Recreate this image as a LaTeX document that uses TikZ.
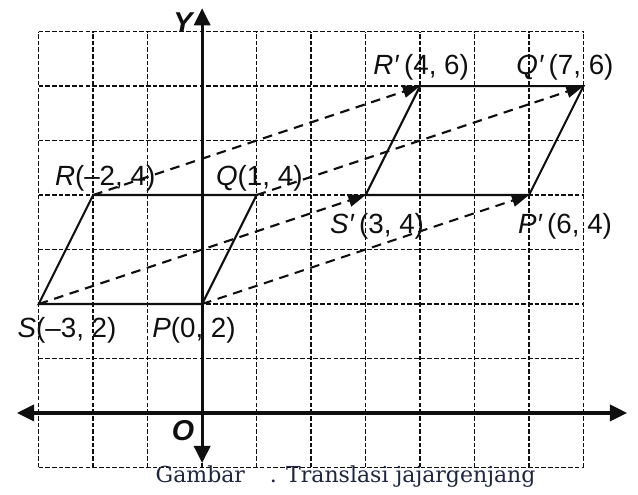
\documentclass[tikz,border=0pt]{standalone}
\usepackage{fontspec}
\setmainfont{Liberation Sans}
\newfontfamily\capfont{DejaVu Serif}
\usepackage{xcolor}
\usepackage{tikz}
\usetikzlibrary{arrows.meta,positioning,calc}
\definecolor{inkblack}{RGB}{15, 15, 15}
\definecolor{capnavy}{RGB}{30, 38, 62}

\begin{document}
\begin{tikzpicture}[
    >={Triangle[length=9pt,width=8.5pt]},
    gridline/.style={dash pattern=on 2.4pt off 1.1pt, line width=0.7pt, inkblack},
    axis/.style={<->, line width=1.6pt, inkblack},
    side/.style={line width=1.1pt, inkblack},
    moveline/.style={-{Triangle[length=9pt,width=6.5pt]}, dash pattern=on 5pt off 3.5pt, line width=1.1pt, inkblack},
    lbl/.style={font=\fontsize{14.5}{17}\selectfont, inner sep=0pt, text=inkblack},
    axlbl/.style={font=\fontsize{15}{17}\selectfont\bfseries\itshape, inner sep=0pt, text=inkblack}
]
    \useasboundingbox (-3.71,-1.49) rectangle (8.0,7.58);

    % Grid
    \draw[gridline] (-3,-1) grid (7,7);

    % Axes
    \coordinate (xl) at (-3.4,0);
    \coordinate (xr) at (7.8,0);
    \coordinate (yb) at (0,-0.92);
    \coordinate (yt) at (0,7.43);
    \draw[axis] (xl) -- (xr);
    \draw[axis] (yb) -- (yt);
    \node[axlbl] (ylab) at (-0.35,7.17) {Y};
    \node[axlbl] (olab) at (-0.35,-0.33) {O};

    % Original parallelogram PQRS
    \coordinate (P) at (0,2);
    \coordinate (Q) at (1,4);
    \coordinate (R) at (-2,4);
    \coordinate (S) at (-3,2);
    \draw[side] (S) -- (P) -- (Q) -- (R) -- cycle;

    % Image parallelogram P'Q'R'S'
    \coordinate (Pi) at (6,4);
    \coordinate (Qi) at (7,6);
    \coordinate (Ri) at (4,6);
    \coordinate (Si) at (3,4);
    \draw[side] (Si) -- (Pi) -- (Qi) -- (Ri) -- cycle;

    % Translation by (6, 2)
    \draw[moveline] (P) -- (Pi);
    \draw[moveline] (Q) -- (Qi);
    \draw[moveline] (R) -- (Ri);
    \draw[moveline] (S) -- (Si);

    % Vertex labels
    \node[lbl] (labR) at (-1.78,4.31) {\textit{R}(–2, 4)};
    \node[lbl] (labQ) at (1.05,4.31) {\textit{Q}(1, 4)};
    \node[lbl] (labS) at (-2.48,1.52) {\textit{S}(–3, 2)};
    \node[lbl] (labP) at (-0.15,1.52) {\textit{P}(0, 2)};
    \node[lbl] (labRi) at (4.02,6.35) {\textit{R′}\,(4, 6)};
    \node[lbl] (labQi) at (6.66,6.35) {\textit{Q′}\,(7, 6)};
    \node[lbl] (labSi) at (3.21,3.43) {\textit{S′}\,(3, 4)};
    \node[lbl] (labPi) at (6.66,3.43) {\textit{P′}\,(6, 4)};

    % Caption
    \node[anchor=base west, inner sep=0pt, text=capnavy, font=\capfont\fontsize{11.5}{13}\selectfont] (cap) at (-0.86,-1.28) {Gambar\hspace{13pt}. Translasi jajargenjang};
\end{tikzpicture}
\end{document}
